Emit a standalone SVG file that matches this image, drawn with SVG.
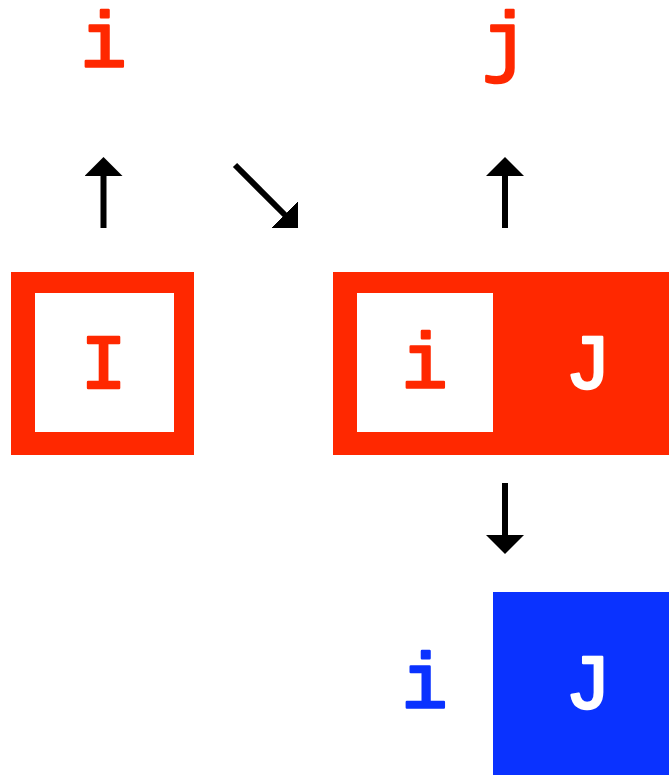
<svg xmlns="http://www.w3.org/2000/svg" width="669" height="775" viewBox="0 0 669 775">
<style>
.t{font-family:"Liberation Mono","Courier New",monospace;font-size:77px;text-anchor:middle;stroke-width:2.5;stroke-linejoin:round;stroke-linecap:round}
.red{fill:#FF2800}
.blue{fill:#0A32FF}
.white{fill:#FFFFFF}
.t.red{stroke:#FF2800}
.t.blue{stroke:#0A32FF}
.t.white{stroke:#FFFFFF}
.conn{stroke:#000;stroke-width:6;fill:none;marker-end:url(#ah)}
</style>
<defs>
<marker id="ah" viewBox="0 0 19 38" refX="2" refY="19" markerWidth="19" markerHeight="38" markerUnits="userSpaceOnUse" orient="auto">
<path d="M0,0 L19,19 L0,38 Z" fill="#000"/>
</marker>
</defs>
<rect width="669" height="775" fill="#fff"/>
<g id="top-i"><text class="t red" x="103.5" y="67">i</text></g>
<g id="top-j"><text class="t red" x="505" y="67">j</text></g>
<g id="box-I">
<rect class="red" x="11" y="272" width="183" height="183"/>
<rect class="white" x="35" y="293" width="139" height="139"/>
<text class="t red" x="103.5" y="388">I</text>
</g>
<g id="box-iJ">
<rect class="red" x="333" y="272" width="336" height="183"/>
<rect class="white" x="357" y="293" width="136" height="139"/>
<text class="t red" x="424.5" y="388">i</text>
<text class="t white" x="588" y="388">J</text>
</g>
<g id="blue-iJ">
<text class="t blue" x="424.5" y="708">i</text>
<rect class="blue" x="493" y="592" width="176" height="183"/>
<text class="t white" x="588" y="708">J</text>
</g>
<g id="connectors">
<line class="conn" x1="103.5" y1="228" x2="103.5" y2="174"/>
<line class="conn" x1="235" y1="165" x2="286" y2="216"/>
<line class="conn" x1="505" y1="228" x2="505" y2="174"/>
<line class="conn" x1="505" y1="483" x2="505" y2="537"/>
</g>
</svg>
